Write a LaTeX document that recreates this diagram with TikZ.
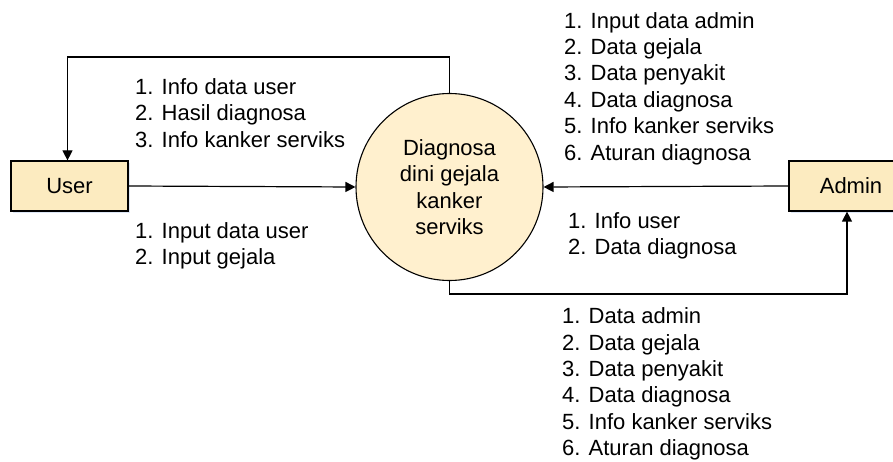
\documentclass[tikz,border=0pt]{standalone}
\usepackage{fontspec}
\setmainfont{Liberation Sans}
\usetikzlibrary{arrows.meta,shadows}
\definecolor{boxfill}{RGB}{252,235,192}
\definecolor{circfill}{RGB}{255,240,206}
\definecolor{shadowc}{RGB}{200,215,240}
\tikzset{
  entity/.style={draw=black, line width=1.2pt, fill=boxfill, minimum width=117pt, minimum height=50pt, inner sep=0pt,
     drop shadow={shadow xshift=1.5pt, shadow yshift=-2pt, fill=shadowc, opacity=0.6}},
  process/.style={draw=black, line width=1.1pt, fill=circfill, circle, minimum size=187pt, inner sep=0pt, align=center},
  flow/.style={line width=1.2pt, -{Triangle[length=10pt,width=10pt]}},
  lbl/.style={anchor=west, align=left, inner sep=0pt},
  every node/.style={font=\fontsize{22}{26.4}\selectfont}
}
\begin{document}
\begin{tikzpicture}[x=1pt,y=-1pt]
\useasboundingbox (0,0) rectangle (893,462);
\clip (0,0) rectangle (893,462);
\node[entity] (user) at (69.5,186) {User};
\node[entity, minimum width=124pt] (admin) at (851,186) {Admin};
\node[process] (proc) at (449.5,187) {Diagnosa\\dini gejala\\kanker\\serviks};
\coordinate (tl) at (67.5,57);
\coordinate (tr) at (449.5,57);
\coordinate (br) at (449.5,294);
\coordinate (bb) at (847,294);
% process -> user
\draw[flow] (proc.north) -- (tr) -- (tl) -- (tl |- user.north);
% user -> process
\draw[flow] (user.east) -- (proc.west);
% admin -> process
\draw[flow] (admin.west) -- (proc.east);
% process -> admin
\draw[flow] (proc.south) -- (br) -- (bb) -- (bb |- admin.south);
\node[lbl] (l1) at (135,113) {1. Info data user\\2. Hasil diagnosa\\3. Info kanker serviks};
\node[lbl] (l2) at (135,246) {1. Input data user\\2. Input gejala};
\node[lbl] (l3) at (564,88.5) {1. Input data admin\\2. Data gejala\\3. Data penyakit\\4. Data diagnosa\\5. Info kanker serviks\\6. Aturan diagnosa};
\node[lbl] (l4) at (568,236) {1. Info user\\2. Data diagnosa};
\node[lbl] (l5) at (562,384) {1. Data admin\\2. Data gejala\\3. Data penyakit\\4. Data diagnosa\\5. Info kanker serviks\\6. Aturan diagnosa};
\end{tikzpicture}
\end{document}
